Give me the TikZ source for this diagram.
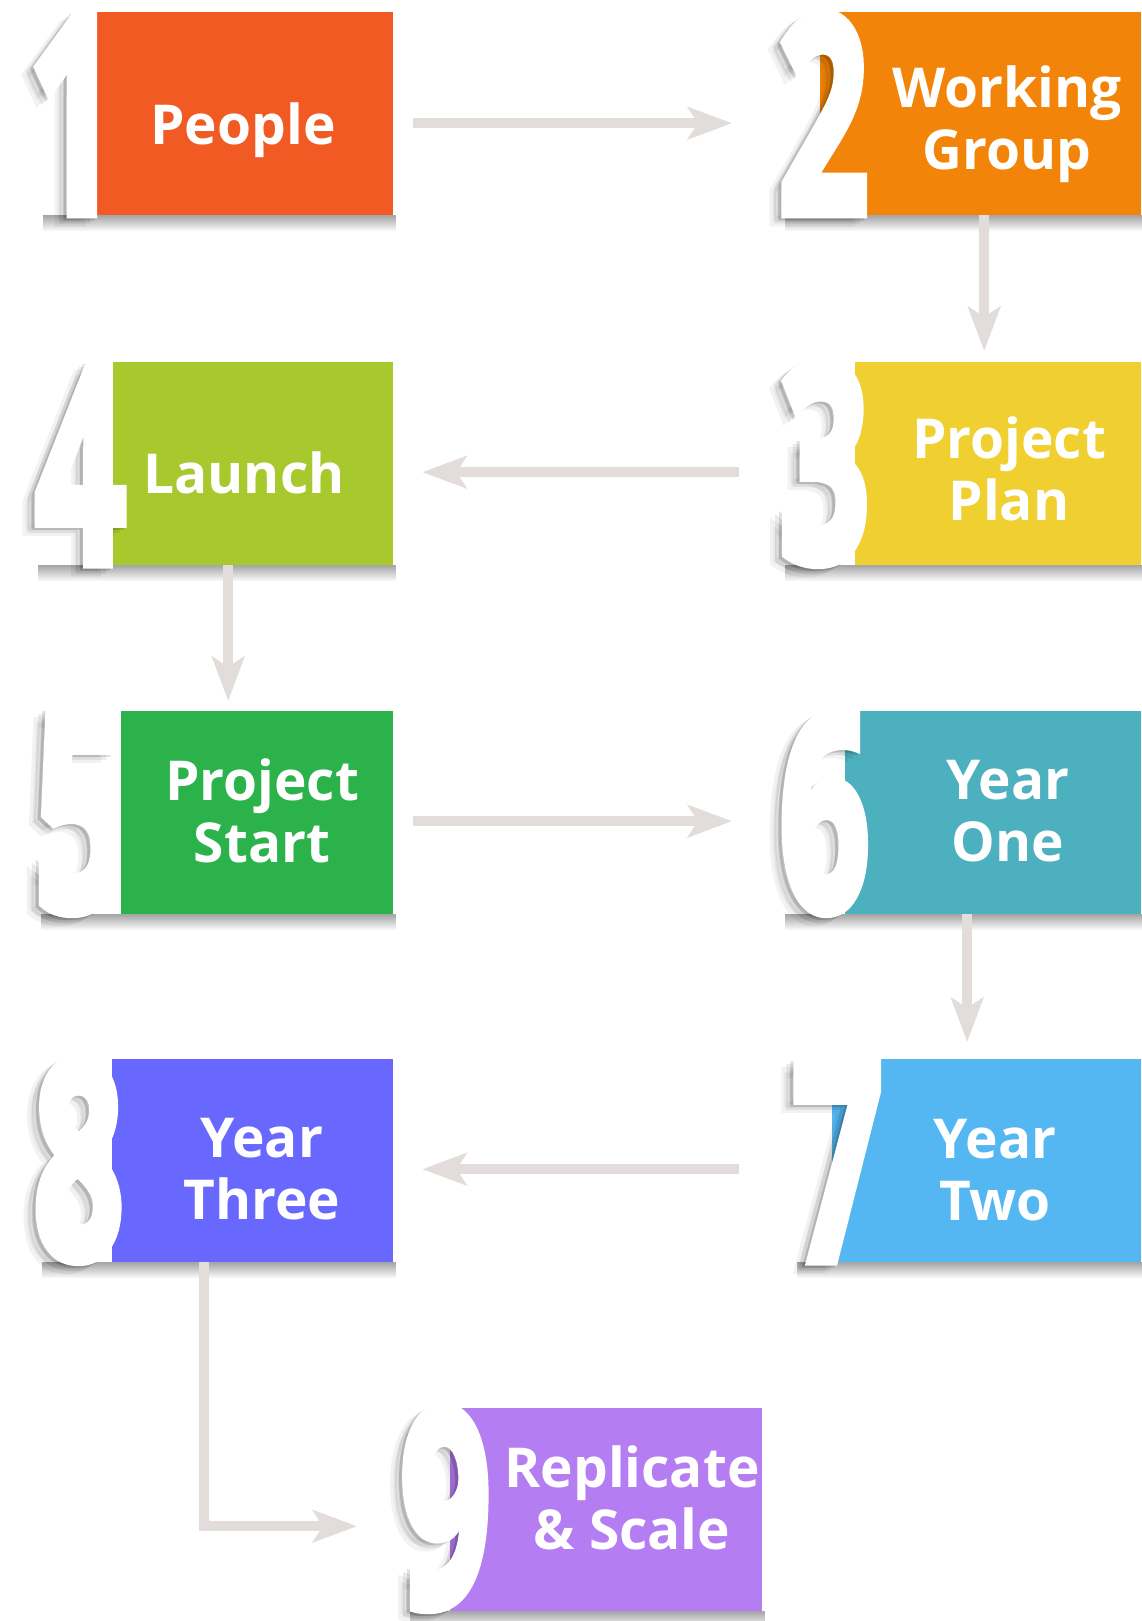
\documentclass[tikz,border=0pt]{standalone}
\usepackage{fontspec}
\setmainfont{Open Sans}
\newfontfamily\numfont{Open Sans Bold}[FakeBold=4]
\usetikzlibrary{arrows.meta,fadings}

\definecolor{peoplecol}{HTML}{F15A22}
\definecolor{groupcol}{HTML}{F28509}
\definecolor{plancol}{HTML}{F0D030}
\definecolor{launchcol}{HTML}{A7C92D}
\definecolor{startcol}{HTML}{2CB24B}
\definecolor{onecol}{HTML}{4DB0BE}
\definecolor{twocol}{HTML}{55B7F1}
\definecolor{threecol}{HTML}{6868FF}
\definecolor{scalecol}{HTML}{B57DF2}
\definecolor{arrowgray}{HTML}{E2DCDA}

\begin{document}
\begin{tikzpicture}[x=1pt, y=-1pt,
            card/.style = {rectangle, inner sep=0pt, minimum height=203pt, anchor=north west},
            label/.style = {text=white, align=center, inner sep=0pt, anchor=base,
                font=\bfseries\fontsize{55}{62}\selectfont},
            num/.style = {inner sep=0pt, anchor=base west, text=white,
                font=\numfont\fontsize{274}{274}\selectfont},
            numshade/.style = {num, text=black},
            cardshade/.style = {fill=black!35, path fading=south},
            flow/.style = {
                line width=10pt, draw=arrowgray,
                -{Stealth[length=44pt, width=32pt, inset=10pt]}
            }
            ]
            \useasboundingbox[fill=white] (0,0) rectangle (1141,1621);

            % Coloured boxes
            \node[card, fill=peoplecol, minimum width=300pt] (b1) at ( 93,  12) {};
            \node[card, fill=groupcol,  minimum width=321pt] (b2) at (820,  12) {};
            \node[card, fill=plancol,   minimum width=286pt] (b3) at (855, 362) {};
            \node[card, fill=launchcol, minimum width=295pt] (b4) at ( 98, 362) {};
            \node[card, fill=startcol,  minimum width=272pt] (b5) at (121, 711) {};
            \node[card, fill=onecol,    minimum width=296pt] (b6) at (845, 711) {};
            \node[card, fill=twocol,    minimum width=309pt] (b7) at (832,1059) {};
            \node[card, fill=threecol,  minimum width=281pt] (b8) at (112,1059) {};
            \node[card, fill=scalecol,  minimum width=312pt] (b9) at (450,1408) {};

            \newcommand{\dropshade}[2]{%
                \fill[cardshade] ([xshift=-#2pt]#1.south west) rectangle ([shift={(3,16)}]#1.south east);}
            \newcommand{\bignum}[3]{%
                \node[numshade, opacity=.12] (#1a) at ([shift={(-3,2)}]#2) {\scalebox{.58}[1]{#3}};
                \node[numshade, opacity=.08] (#1b) at ([shift={(-7,5)}]#2) {\scalebox{.58}[1]{#3}};
                \node[numshade, opacity=.05] (#1c) at ([shift={(-12,8)}]#2) {\scalebox{.58}[1]{#3}};
                \node[num] (#1) at (#2) {\scalebox{.58}[1]{#3}};}

            \dropshade{b1}{50} \dropshade{b2}{35} \dropshade{b3}{70}
            \dropshade{b4}{60} \dropshade{b5}{80} \dropshade{b6}{60}
            \dropshade{b7}{35} \dropshade{b8}{70} \dropshade{b9}{40}

            % Big numbers
            \bignum{n1}{28, 213}{1}
            \bignum{n2}{778, 213}{2}
            \bignum{n3}{779, 561}{3}
            \bignum{n4}{35, 563}{4}
            \bignum{n5}{34, 910}{5}
            \bignum{n6}{779, 910}{6}
            \bignum{n7}{792,1260}{7}
            \bignum{n8}{33,1258}{8}
            \bignum{n9}{400,1606}{9}

            % Labels
            \node[label] (t1) at ( 243, 145) {People};
            \node[label] (t2) at (1007, 170) {Working\\Group};
            \node[label] (t3) at (1009, 520) {Project\\Plan};
            \node[label] (t4) at ( 244, 493) {Launch};
            \node[label] (t5) at ( 262, 862) {Project\\Start};
            \node[label] (t6) at (1008, 861) {Year\\One};
            \node[label] (t7) at ( 995,1220) {Year\\Two};
            \node[label] (t8) at ( 262,1219) {Year\\Three};
            \node[label] (t9) at ( 632,1549) {Replicate\\\& Scale};

            % Links
            \draw[flow] ([shift={(20,9.5)}]b1.east) -- ([shift={(-88,9.5)}]b2.west);
            \draw[flow] ([xshift=3.5pt]b2.south) -- ([xshift=3.5pt, yshift=11pt]b2.south |- b3.north);
            \draw[flow] ([shift={(-116,8.5)}]b3.west) -- ([shift={(29,8.5)}]b4.east);
            \draw[flow] ([xshift=-17.5pt]b4.south) -- ([xshift=-17.5pt, yshift=10pt]b4.south |- b5.north);
            \draw[flow] ([shift={(20,8.5)}]b5.east) -- ([shift={(-113,8.5)}]b6.west);
            \draw[flow] ([xshift=-26pt]b6.south) -- ([xshift=-26pt, yshift=17pt]b6.south |- b7.north);
            \draw[flow] ([shift={(-93,8.5)}]b7.west) -- ([shift={(29,8.5)}]b8.east);
            \draw[flow] ([xshift=-48.5pt]b8.south) |- ([shift={(-93,16.5)}]b9.west);
        \end{tikzpicture}
\end{document}
